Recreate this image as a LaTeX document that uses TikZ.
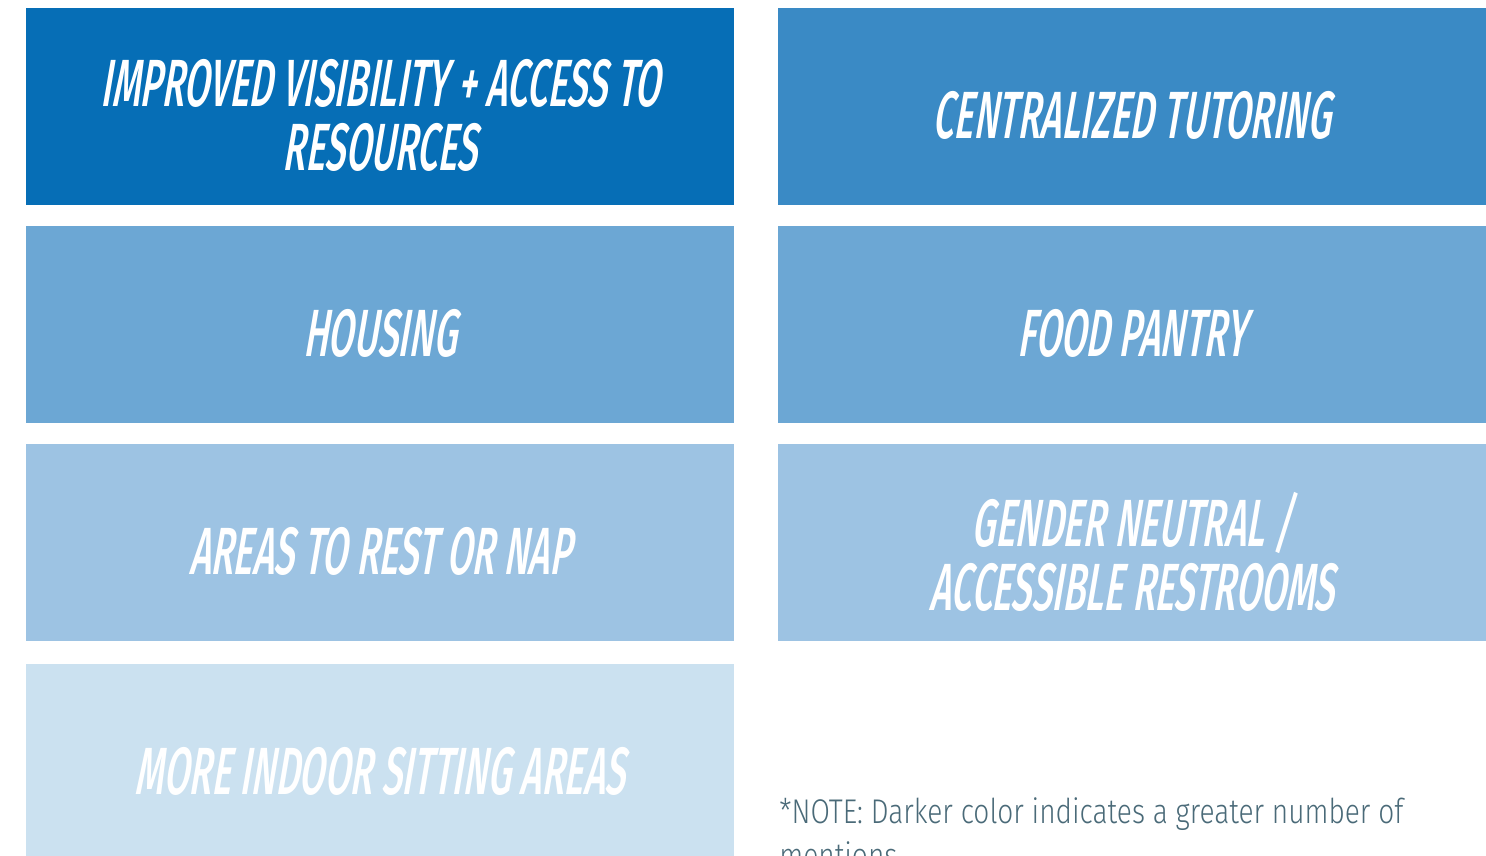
\documentclass[tikz,border=0pt]{standalone}
\usepackage{fontspec}
\newfontfamily\tilefont[FakeStretch=0.55, FakeSlant=0.17]{Fira Sans Medium}
\newfontfamily\notefont[FakeStretch=0.82]{Fira Sans Light}
\definecolor{tileA}{RGB}{6,110,182}
\definecolor{tileB}{RGB}{58,138,197}
\definecolor{tileC}{RGB}{108,167,212}
\definecolor{tileD}{RGB}{157,195,227}
\definecolor{tileE}{RGB}{203,225,240}
\definecolor{notegrey}{RGB}{74,106,120}
\usetikzlibrary{positioning}

\begin{document}
\begin{tikzpicture}[x=0.02cm, y=-0.02cm,
  tile/.style={minimum width=14.16cm, minimum height=3.94cm, inner sep=0pt},
  caption/.style={yshift=-0.18cm, inner sep=0pt, align=center, text=white, font=\tilefont\fontsize{38}{36.4}\selectfont},
  note/.style={anchor=north west, inner sep=0pt, align=left, text=notegrey, font=\notefont\fontsize{19.5}{25.5}\selectfont}
]
\useasboundingbox (0,0) rectangle (1486,855);
\clip (0,0) rectangle (1486,855);

\node[tile, fill=tileA, label={[caption]center:IMPROVED VISIBILITY + ACCESS TO\\RESOURCES}] (visibility) at (380,106.5) {};
\node[tile, fill=tileB, label={[caption]center:CENTRALIZED TUTORING}] (tutoring) at (1132,106.5) {};
\node[tile, fill=tileC, label={[caption]center:HOUSING}] (housing) at (380,324.5) {};
\node[tile, fill=tileC, label={[caption]center:FOOD PANTRY}] (pantry) at (1132,324.5) {};
\node[tile, fill=tileD, label={[caption]center:AREAS TO REST OR NAP}] (rest) at (380,542.5) {};
\node[tile, fill=tileD, label={[caption]center:GENDER NEUTRAL /\\ACCESSIBLE RESTROOMS}] (restrooms) at (1132,542.5) {};
\node[tile, fill=tileE, label={[caption]center:MORE INDOOR SITTING AREAS}] (sitting) at (380,762) {};

\node[note] (legend) at (779,797) {*NOTE: Darker color indicates a greater number of\\mentions};

\end{tikzpicture}
\end{document}
